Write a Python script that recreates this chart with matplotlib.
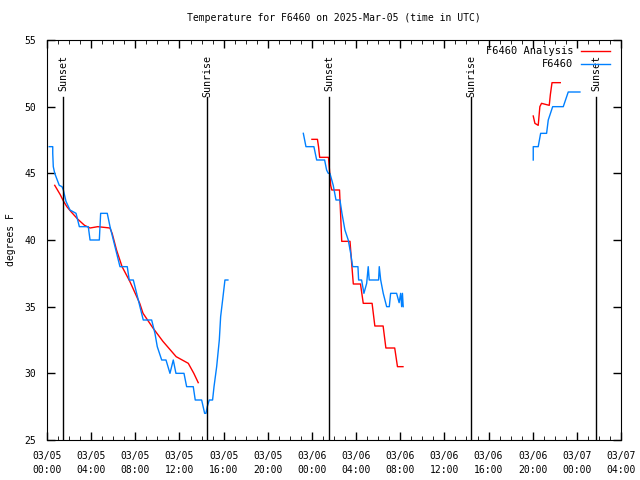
import numpy as np
import matplotlib
matplotlib.use("Agg")
import matplotlib.pyplot as plt

plt.rcParams['font.family'] = ['DejaVu Sans Mono']
plt.rcParams['font.size'] = 7

# hours since 03/05 00:00 UTC
obs1_h = [0.2, 0.52, 0.52, 0.57, 0.7, 1.11, 1.36, 1.48, 1.72, 2.08, 2.63, 2.93, 3.74, 3.9, 4.74, 4.86, 5.46,
          5.71, 6.61, 7.27, 7.45, 7.82, 8.42, 8.72, 9.48, 9.78, 9.99, 10.39, 10.78, 11.14, 11.44, 11.68, 12.41,
          12.65, 13.25, 13.43, 14.01, 14.28, 14.4, 14.52, 14.7, 15.0, 15.13, 15.37, 15.61, 15.73, 15.91, 16.12,
          16.39]
obs1_t = [47, 47, 46.5, 45.5, 45, 44.1, 44, 43.75, 42.9, 42.25, 42, 41, 41, 40, 40, 42, 42,
          41, 38, 38, 37, 37, 35, 34, 34, 33, 32, 31, 31, 30, 31, 30, 30,
          29, 29, 28, 28, 27, 27, 27.5, 28, 28, 29, 30.5, 32.5, 34.25, 35.5, 37,
          37]
obs2_h = [23.22, 23.46, 24.18, 24.43, 25.15, 25.33, 25.48, 25.63, 25.93, 26.18, 26.54, 26.72, 26.99, 27.29,
          27.51, 27.69, 28.17, 28.23, 28.5, 28.71, 28.96, 29.1, 29.19, 30.04, 30.1, 30.23, 30.46, 30.77, 31.01,
          31.13, 31.67, 31.9, 32.04, 32.13, 32.2, 32.27]
obs2_t = [48, 47, 47, 46, 46, 45.25, 45, 45, 44.1, 43, 43, 42, 40.75, 40,
          39, 38, 38, 37, 37, 36, 36.75, 38, 37, 37, 38, 37, 36, 35, 35,
          36, 36, 35.3, 36, 35, 36, 35]
obs3_h = [44.05, 44.05, 44.5, 44.72, 45.26, 45.41, 45.81, 46.77, 47.22, 48.28]
obs3_t = [46, 47, 47, 48, 48, 49, 50, 50, 51.1, 51.1]

ana1_h = [0.7, 1.2, 1.5, 1.8, 2.2, 2.8, 3.4, 3.9, 4.6, 5.7, 5.9, 6.3, 6.8, 7.5, 8.4, 8.7, 9.6, 10.5, 11.7,
          12.8, 13.3, 13.7]
ana1_t = [44.1, 43.4, 42.9, 42.5, 42.1, 41.55, 41.1, 40.9, 41.0, 40.9, 40.5, 39.25, 38.0, 36.9, 35.25, 34.5,
          33.4, 32.4, 31.25, 30.75, 30.0, 29.3]
ana2_h = [24.0, 24.5, 24.6, 24.7, 25.5, 25.7, 25.8, 26.5, 26.6, 26.7, 27.45, 27.6, 27.75, 28.4, 28.65, 29.45,
          29.7, 30.45, 30.7, 31.5, 31.75, 32.25]
ana2_t = [47.55, 47.55, 47.0, 46.2, 46.2, 44.1, 43.75, 43.75, 41.9, 39.9, 39.9, 38.25, 36.7, 36.7, 35.25, 35.25,
          33.55, 33.55, 31.9, 31.9, 30.5, 30.5]
ana3_h = [44.05, 44.2, 44.5, 44.65, 44.8, 45.5, 45.6, 45.75, 46.5]
ana3_t = [49.3, 48.75, 48.6, 50.0, 50.25, 50.1, 50.9, 51.8, 51.8]

sun_h = [1.45, 14.5, 25.55, 38.4, 49.75]
sun_lbl = ["Sunset", "Sunrise", "Sunset", "Sunrise", "Sunset"]

tick_h = list(range(0, 53, 4))
tick_lbl = ["03/05\n00:00", "03/05\n04:00", "03/05\n08:00", "03/05\n12:00", "03/05\n16:00", "03/05\n20:00",
            "03/06\n00:00", "03/06\n04:00", "03/06\n08:00", "03/06\n12:00", "03/06\n16:00", "03/06\n20:00",
            "03/07\n00:00", "03/07\n04:00"]

fig = plt.figure(figsize=(6.4, 4.8), dpi=100)
ax = fig.add_axes([47/640, 40/480, 574/640, 400/480])

nan = [np.nan]
ana_h = ana1_h + nan + ana2_h + nan + ana3_h
ana_t = ana1_t + nan + ana2_t + nan + ana3_t
obs_h = obs1_h + nan + obs2_h + nan + obs3_h
obs_t = obs1_t + nan + obs2_t + nan + obs3_t

ax.plot(ana_h, ana_t, color='#ff0000', lw=1, label='F6460 Analysis')
ax.plot(obs_h, obs_t, color='#0080ff', lw=1, label='F6460')

for h, s in zip(sun_h, sun_lbl):
    ax.plot([h, h], [25, 50.7], color='black', lw=1)
    ax.text(h, 53.9, s, rotation=90, ha='center', va='top', fontsize=7.2)

ax.set_xlim(0, 52)
ax.set_ylim(25, 55)
ax.set_xticks(tick_h)
ax.set_xticklabels(tick_lbl, linespacing=1.5)
ax.set_xticks(range(0, 53), minor=True)
ax.set_yticks(range(25, 56, 5))
ax.tick_params(direction='in', top=True, right=True, length=6, width=1, pad=8)
ax.tick_params(which='minor', direction='in', top=True, length=3)
fig.text(11/640, 0.5, 'degrees F', rotation=90, ha='center', va='center', fontsize=7)
ax.set_title('Temperature for F6460 on 2025-Mar-05 (time in UTC)', fontsize=7, pad=14)

ax.legend(loc='upper right', bbox_to_anchor=(1 - 5/574, 1), frameon=False, markerfirst=False,
          handlelength=2.8, borderaxespad=0.2, labelspacing=0.3, handletextpad=0.7, fontsize=7.5)

fig.savefig('out.png', dpi=100)
